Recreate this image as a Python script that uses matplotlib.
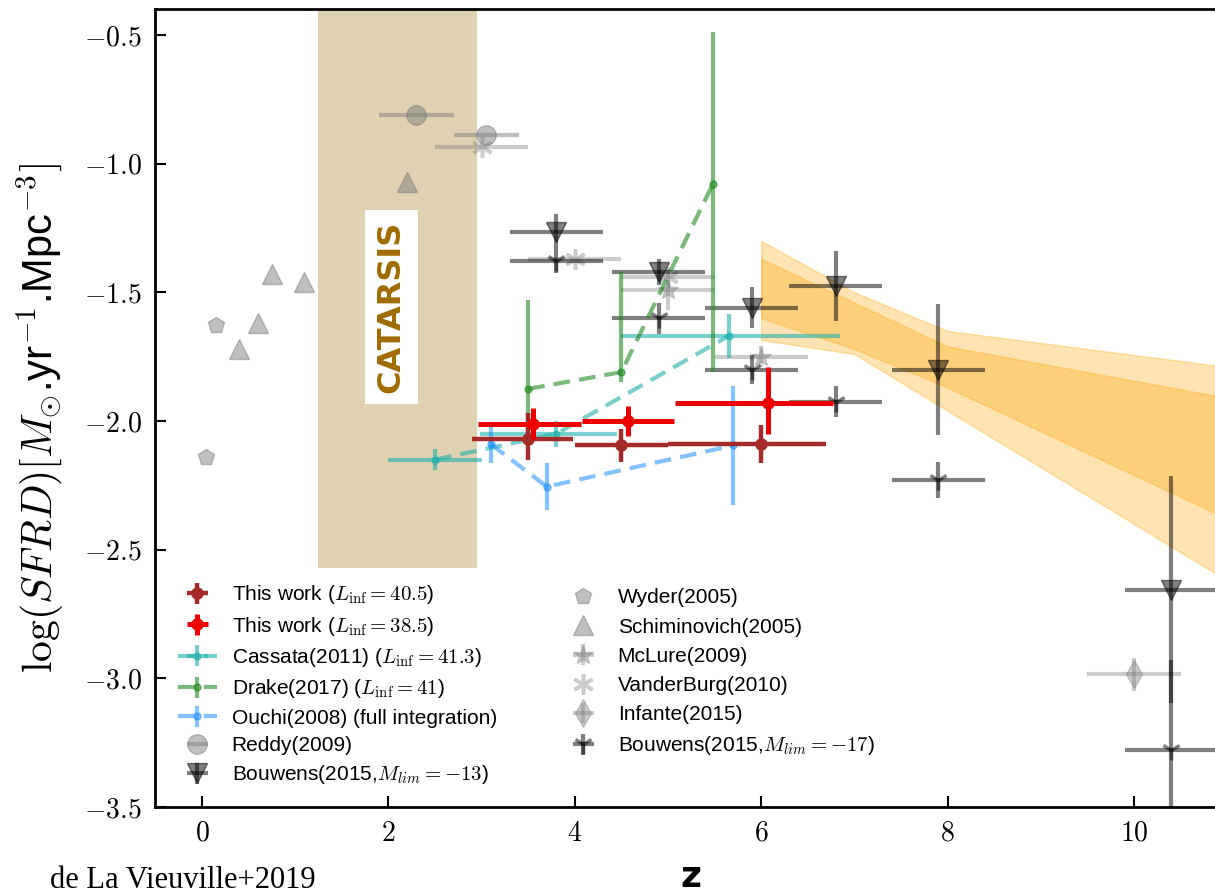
import matplotlib
matplotlib.use("Agg")
import matplotlib.pyplot as plt
from matplotlib import font_manager
from matplotlib.ticker import FuncFormatter, FixedLocator
from matplotlib.lines import Line2D
import numpy as np

plt.rcParams['font.family'] = ['Liberation Sans', 'DejaVu Sans']
plt.rcParams['mathtext.fontset'] = 'cm'

# ---------------- data ----------------
# This work (L_inf = 40.5)
tw1_z = [3.5, 4.5, 6.0]
tw1_y = [-2.07, -2.095, -2.09]
tw1_xlo = [0.60, 0.50, 1.00]
tw1_xhi = [0.48, 0.50, 0.70]
tw1_ylo = [0.08, 0.065, 0.075]
tw1_yhi = [0.10, 0.065, 0.075]

# This work (L_inf = 38.5)
tw2_z = [3.55, 4.57, 6.07]
tw2_y = [-2.01, -2.00, -1.93]
tw2_xlo = [0.59, 0.49, 0.99]
tw2_xhi = [0.52, 0.49, 0.70]
tw2_ylo = [0.06, 0.06, 0.12]
tw2_yhi = [0.06, 0.06, 0.14]

# Cassata(2011)
cas_z = [2.5, 3.8, 5.65]
cas_y = [-2.15, -2.05, -1.67]
cas_xlo = [0.50, 0.82, 1.15]
cas_xhi = [0.50, 0.65, 1.20]
cas_yerr = [0.04, 0.05, 0.085]

# Drake(2017)
dra_z = [3.5, 4.5, 5.48]
dra_y = [-1.875, -1.81, -1.08]
dra_ylo = [0.18, 0.04, 0.73]
dra_yhi = [0.345, 0.39, 0.59]

# Ouchi(2008)
ouc_z = [3.1, 3.7, 5.7]
ouc_y = [-2.09, -2.255, -2.095]
ouc_yerr = [0.075, 0.09, 0.23]

# Reddy(2009)
red_z = [2.3, 3.05]
red_y = [-0.81, -0.89]
red_xerr = [0.40, 0.35]

# Bouwens(2015, Mlim=-13)
b13_z = [3.8, 4.9, 5.9, 6.8, 7.9, 10.4]
b13_y = [-1.265, -1.42, -1.56, -1.475, -1.80, -2.655]
b13_xerr = [0.5, 0.5, 0.5, 0.5, 0.5, 0.5]
b13_yerr = [0.07, 0.05, 0.08, 0.135, 0.255, 0.44]

# Wyder(2005)
wyd_z = [0.04, 0.15]
wyd_y = [-2.14, -1.626]

# Schiminovich(2005)
sch_z = [0.4, 0.6, 0.75, 1.09, 2.2]
sch_y = [-1.72, -1.62, -1.43, -1.46, -1.07]

# McLure(2009)
mcl_z = [5.0, 6.0]
mcl_y = [-1.49, -1.75]
mcl_xerr = [0.5, 0.5]
mcl_yerr = [0.08, 0.04]

# VanderBurg(2010)
vdb_z = [3.0, 4.0, 5.0]
vdb_y = [-0.935, -1.37, -1.44]
vdb_xerr = [0.5, 0.5, 0.5]

# Infante(2015)
inf_z = [10.0]
inf_y = [-2.985]
inf_xerr = [0.5]
inf_yerr = [0.065]

# Bouwens(2015, Mlim=-17)
b17_z = [3.8, 4.9, 5.9, 6.8, 7.9, 10.4]
b17_y = [-1.38, -1.60, -1.80, -1.925, -2.23, -3.28]
b17_xerr = [0.5, 0.5, 0.5, 0.5, 0.5, 0.5]
b17_yerr = [0.045, 0.06, 0.055, 0.06, 0.07, 0.35]

# shaded band (z > 6)
band_z = [6.0, 7.0, 8.0, 11.0]
band_outer_hi = [-1.30, -1.50, -1.65, -1.79]
band_inner_hi = [-1.37, -1.54, -1.71, -1.91]
band_inner_lo = [-1.60, -1.72, -1.87, -2.38]
band_outer_lo = [-1.685, -1.74, -1.96, -2.62]

# CATARSIS region
cat_z = [1.245, 2.95]
cat_ylow = -2.57

xticks = [0, 2, 4, 6, 8, 10]
yticks = [-3.5, -3.0, -2.5, -2.0, -1.5, -1.0, -0.5]

# ---------------- figure ----------------
W, H = 1215, 896
fig = plt.figure(figsize=(W / 100, H / 100), dpi=100)
ax = fig.add_axes([155.4 / W, 1 - 807 / H, (1227.2 - 155.4) / W, (807 - 9.3) / H])
ax.set_xlim(-0.5, 11.0)
ax.set_ylim(-3.5, -0.4)

# CATARSIS region
ax.fill_between(cat_z, cat_ylow, -0.4, color='#dfd1b1', lw=0, zorder=0)

# band
ax.fill_between(band_z, band_outer_lo, band_outer_hi, facecolor='orange',
                edgecolor='orange', alpha=0.3, lw=1, zorder=1)
ax.fill_between(band_z, band_inner_lo, band_inner_hi, facecolor='orange',
                edgecolor='orange', alpha=0.3, lw=1, zorder=1)


def asym(lo, hi):
    return np.array([lo, hi])


# colored series
ax.errorbar(tw1_z, tw1_y, xerr=asym(tw1_xlo, tw1_xhi), yerr=asym(tw1_ylo, tw1_yhi),
            fmt='o', color='#a52a2a', ms=8, elinewidth=3.2, capsize=0,
            label=r'This work ($L_{\rm inf}=40.5$)', zorder=6)
ax.errorbar(tw2_z, tw2_y, xerr=asym(tw2_xlo, tw2_xhi), yerr=asym(tw2_ylo, tw2_yhi),
            fmt='o', color='#ee0000', ms=8, elinewidth=3.6, capsize=0,
            label=r'This work ($L_{\rm inf}=38.5$)', zorder=7)
ax.errorbar(cas_z, cas_y, xerr=asym(cas_xlo, cas_xhi), yerr=cas_yerr,
            fmt='o', ls='--', dashes=(4, 2.2), color='#20b2aa', alpha=0.6, ms=5,
            lw=3, elinewidth=3, capsize=0,
            label=r'Cassata(2011) ($L_{\rm inf}=41.3$)', zorder=5)
ax.errorbar(dra_z, dra_y, yerr=asym(dra_ylo, dra_yhi),
            fmt='o', ls='--', dashes=(4, 2.2), color='forestgreen', alpha=0.6, ms=5,
            lw=3, elinewidth=3, capsize=0,
            label=r'Drake(2017) ($L_{\rm inf}=41$)', zorder=5)
ax.errorbar(ouc_z, ouc_y, yerr=ouc_yerr,
            fmt='o', ls='--', dashes=(4, 2.2), color='dodgerblue', alpha=0.55, ms=5,
            lw=3, elinewidth=3, capsize=0,
            label='Ouchi(2008) (full integration)', zorder=5)
ax.errorbar(red_z, red_y, xerr=red_xerr, fmt='o', color='gray', alpha=0.5, ms=14,
            elinewidth=3, capsize=0, label='Reddy(2009)', zorder=3)
ax.errorbar(b13_z, b13_y, xerr=b13_xerr, yerr=b13_yerr, fmt='v', color='k', alpha=0.5,
            ms=15, elinewidth=3, capsize=0,
            label=r'Bouwens(2015,$M_{lim}=-13$)', zorder=4)
ax.errorbar(wyd_z, wyd_y, fmt='p', color='gray', alpha=0.5, ms=12,
            label='Wyder(2005)', zorder=3)
ax.errorbar(sch_z, sch_y, fmt='^', color='gray', alpha=0.5, ms=14,
            label='Schiminovich(2005)', zorder=3)
ax.errorbar(mcl_z, mcl_y, xerr=mcl_xerr, yerr=mcl_yerr, fmt='*', color='gray', alpha=0.4,
            ms=15, elinewidth=3, capsize=0, label='McLure(2009)', zorder=3)
ax.errorbar(vdb_z, vdb_y, xerr=vdb_xerr, fmt='none', ecolor='gray', alpha=0.4,
            elinewidth=3, capsize=0, zorder=3)
ax.plot(vdb_z, vdb_y, ls='none', marker=(6, 2, 0), color='gray', alpha=0.4, ms=15,
        mew=2.5, zorder=3)
vdb_handle = Line2D([], [], ls='none', marker=(6, 2, 0), color='gray', alpha=0.4,
                    ms=15, mew=2.5)
ax.errorbar(inf_z, inf_y, xerr=inf_xerr, yerr=inf_yerr, fmt='d', color='gray', alpha=0.4,
            ms=14, elinewidth=3, capsize=0, label='Infante(2015)', zorder=3)
ax.errorbar(b17_z, b17_y, xerr=b17_xerr, yerr=b17_yerr, fmt='1', color='k', alpha=0.5,
            ms=15, mew=2.5, elinewidth=3, capsize=0,
            label=r'Bouwens(2015,$M_{lim}=-17$)', zorder=4)

# CATARSIS label
names = {f.name for f in font_manager.fontManager.ttflist}
if 'Liberation Sans Narrow' in names:
    cat_family, cat_size = ['Liberation Sans Narrow'], 30
else:
    cat_family, cat_size = ['DejaVu Sans'], 23
ax.text(2.03, -1.557, 'CATARSIS', rotation=90, ha='center', va='center',
        color='#a06c00', fontsize=cat_size, fontweight='bold', family=cat_family,
        bbox=dict(boxstyle='square,pad=0.35', fc='white', ec='none'), zorder=8)

# legend (two columns as two legends)
h, l = ax.get_legend_handles_labels()
idx = [i for i, s in enumerate(l) if s.startswith('McLure')][0]
h.insert(idx + 1, vdb_handle)
l.insert(idx + 1, 'VanderBurg(2010)')
leg_kw = dict(loc='upper left', frameon=False, fontsize=15, handlelength=1.9,
              handletextpad=0.7)
leg1 = ax.legend(h[:7], l[:7], bbox_to_anchor=(0.0032, 0.3038), labelspacing=0.40,
                 **leg_kw)
ax.add_artist(leg1)
leg2 = ax.legend(h[7:], l[7:], bbox_to_anchor=(0.3633, 0.2975), labelspacing=0.49,
                 **leg_kw)

# axes styling
for s in ['left', 'bottom', 'top', 'right']:
    ax.spines[s].set_linewidth(2)
ax.tick_params(direction='in', length=8, width=1.5, top=False, right=False,
               labelsize=20, pad=10)
ax.xaxis.set_major_locator(FixedLocator(xticks))
ax.yaxis.set_major_locator(FixedLocator(yticks))
ax.xaxis.set_major_formatter(FuncFormatter(lambda v, p: r'$%d$' % v))
ax.yaxis.set_major_formatter(FuncFormatter(lambda v, p: r'$%.1f$' % v))

ax.set_ylabel(r'$\log(SFRD)[M_{\odot}$.yr$^{-1}$.Mpc$^{-3}]$', fontsize=30)
ax.yaxis.set_label_coords(-0.1077, 0.487)
ax.yaxis.label.set_va('center')
ax.set_xlabel('z', fontsize=26, fontweight='bold', family='DejaVu Sans')
ax.xaxis.set_label_coords(0.5, -0.088)
ax.xaxis.label.set_va('center')

fig.text(50 / W, 1 - 880 / H, 'de La Vieuville+2019', family='Liberation Serif',
         fontsize=22, va='center', ha='left')

fig.savefig('out.png', dpi=100)
